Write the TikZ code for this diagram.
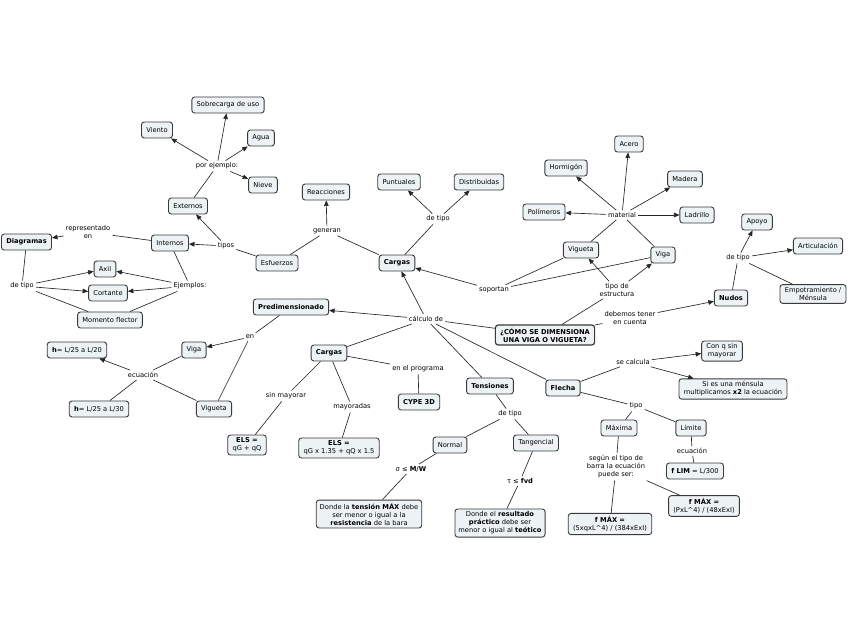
\documentclass[tikz,border=0pt]{standalone}
\usepackage{fontspec}
\setmainfont{DejaVu Sans}
\usetikzlibrary{arrows.meta}
\definecolor{boxfill}{HTML}{EDF2F5}
\definecolor{boxline}{HTML}{3A3A3A}
\tikzset{
  concept/.style={draw=boxline, fill=boxfill, rounded corners=2.8pt, line width=0.9pt,
    inner xsep=4.8pt, inner ysep=2.8pt, minimum height=16pt,
    font=\fontsize{6.7}{8}\selectfont, align=center},
  mainc/.style={concept, font=\fontsize{6.7}{8}\selectfont\bfseries},
  link/.style={inner sep=2pt, font=\fontsize{6.7}{8}\selectfont, align=center},
  con/.style={draw=black!85, line width=0.65pt},
  arr/.style={con, -{Triangle[length=5.5pt,width=4.6pt]}},
}
\begin{document}
\begin{tikzpicture}[x=1pt,y=-1pt]
\fill[white] (0,0) rectangle (848,638);
\useasboundingbox (0,0) rectangle (848,638);
% concepts and links
\node[concept] (sobre) at (228,105) {Sobrecarga de uso};
\node[concept] (viento) at (157,130) {Viento};
\node[concept] (agua) at (261,138) {Agua};
\node[link] (porej) at (217,166) {por ejemplo:};
\node[concept] (nieve) at (263,185) {Nieve};
\node[concept] (externos) at (188,206) {Externos};
\node[concept] (reacc) at (326,192) {Reacciones};
\node[concept] (puntuales) at (399,182) {Puntuales};
\node[concept] (distrib) at (479,182) {Distribuidas};
\node[link] (detipoC) at (438,219) {de tipo};
\node[link] (generan) at (327,231) {generan};
\node[concept] (esfuerzos) at (277,263) {Esfuerzos};
\node[link] (tipos) at (226,246) {tipos};
\node[concept] (internos) at (170,243) {Internos};
\node[link] (repr) at (88,232) {representado\\en};
\node[mainc] (diagramas) at (26.5,242) {Diagramas};
\node[concept] (axil) at (105,269) {Axil};
\node[link] (detipoD) at (22,286) {de tipo};
\node[concept] (cortante) at (108,293) {Cortante};
\node[link] (ejemplos) at (190,286) {Ejemplos:};
\node[concept] (momento) at (110,320) {Momento flector};
\node[mainc] (cargas) at (397,263) {Cargas};
\node[concept] (hormigon) at (566,168) {Hormigón};
\node[concept] (acero) at (629,144) {Acero};
\node[concept] (madera) at (685,179) {Madera};
\node[concept] (polimeros) at (544,212) {Polímeros};
\node[link] (material) at (622,215) {material};
\node[concept] (ladrillo) at (697,215) {Ladrillo};
\node[concept] (viguetaR) at (581,250) {Vigueta};
\node[concept] (vigaR) at (663,255) {Viga};
\node[link] (soportan) at (494,290) {soportan};
\node[link] (tipoest) at (617,290) {tipo de\\estructura};
\node[concept] (apoyo) at (757,222) {Apoyo};
\node[link] (detipoN) at (738,258) {de tipo};
\node[concept] (artic) at (818,246) {Articulación};
\node[concept] (empotr) at (813,294) {Empotramiento /\\Ménsula};
\node[mainc] (nudos) at (731,298) {Nudos};
\node[link] (debemos) at (630,318) {debemos tener\\en cuenta};
\node[mainc, line width=1.2pt] (como) at (545,335) {¿CÓMO SE DIMENSIONA\\UNA VIGA O VIGUETA?};
\node[link] (calculo) at (426,319) {cálculo de};
\node[mainc] (predim) at (291,307) {Predimensionado};
\node[link] (enP) at (250,337) {en};
\node[concept] (vigaL) at (194,350) {Viga};
\node[concept] (h1) at (77,350) {\textbf{h}= L/25 a L/20};
\node[link] (ecuL) at (143,375) {ecuación};
\node[concept] (h2) at (99,409) {\textbf{h}= L/25 a L/30};
\node[concept] (viguetaL) at (214,409) {Vigueta};
\node[mainc] (cargasM) at (329,353) {Cargas};
\node[link] (enprog) at (418,369) {en el programa};
\node[mainc] (cype) at (419,402) {CYPE 3D};
\node[link] (sinmay) at (286,396) {sin mayorar};
\node[link] (mayoradas) at (352,407) {mayoradas};
\node[concept] (els1) at (247,445) {\textbf{ELS =}\\qG + qQ};
\node[concept] (els2) at (339,448) {\textbf{ELS =}\\qG x 1.35 + qQ x 1.5};
\node[mainc] (tensiones) at (490,386) {Tensiones};
\node[link] (detipoT) at (510,414) {de tipo};
\node[concept] (normal) at (450,445) {Normal};
\node[concept] (tang) at (536,443) {Tangencial};
\node[link] (sigma) at (411,469) {σ ≤ \textbf{M/W}};
\node[link] (tau) at (520,481) {τ ≤ \textbf{fvd}};
\node[concept, inner xsep=3.5pt] (dondeT) at (369,514) {Donde la \textbf{tensión MÁX} debe\\ser menor o igual a la\\\textbf{resistencia} de la bara};
\node[concept, inner xsep=3.5pt] (dondeR) at (500,523) {Donde el \textbf{resultado}\\\textbf{práctico} debe ser\\menor o igual al \textbf{teótico}};
\node[mainc] (flecha) at (563,388) {Flecha};
\node[link] (secalc) at (633,362) {se calcula};
\node[concept] (conq) at (722,351) {Con q sin\\mayorar};
\node[concept] (sies) at (733,389) {Si es una ménsula\\multiplicamos \textbf{x2} la ecuación};
\node[link] (tipoF) at (636,406) {tipo};
\node[concept] (maxima) at (619,428) {Máxima};
\node[concept] (limite) at (691,428) {Límite};
\node[link] (ecuF) at (692,451) {ecuación};
\node[concept] (flim) at (695,471) {\textbf{f LIM} = L/300};
\node[link] (segun) at (616,467) {según el tipo de\\barra la ecuación\\puede ser:};
\node[concept] (fmax2) at (704,506) {\textbf{f MÁX =}\\(PxL\textasciicircum 4) / (48xExI)};
\node[concept] (fmax1) at (610,524) {\textbf{f MÁX =}\\(5xqxL\textasciicircum 4) / (384xExI)};
% connectors
\draw[con] (como) -- (calculo);
\draw[arr] (calculo) -- (predim);
\draw[arr] (calculo) -- (cargas);
\draw[con] (calculo) -- (cargasM);
\draw[con] (calculo) -- (tensiones);
\draw[con] (calculo) -- (flecha);
\draw[con] (cargas) -- (detipoC);
\draw[arr] (detipoC) -- (puntuales);
\draw[arr] (detipoC) -- (distrib);
\draw[con] (esfuerzos) -- (generan);
\draw[con] (generan) -- (cargas);
\draw[arr] (generan) -- (reacc);
\draw[con] (esfuerzos) -- (tipos);
\draw[arr] (tipos) -- (internos);
\draw[arr] (tipos) -- (externos);
\draw[con] (externos) -- (porej);
\draw[arr] (porej) -- (viento);
\draw[arr] (porej) -- (sobre);
\draw[arr] (porej) -- (agua);
\draw[arr] (porej) -- (nieve);
\draw[con] (internos) -- (repr);
\draw[arr] (repr) -- (diagramas);
\draw[con] (internos) -- (ejemplos);
\draw[arr] (ejemplos) -- (axil);
\draw[arr] (ejemplos) -- (cortante);
\draw[con] (ejemplos) -- (momento);
\draw[con] (diagramas) -- (detipoD);
\draw[arr] (detipoD) -- (axil);
\draw[arr] (detipoD) -- (cortante);
\draw[con] (detipoD) -- (momento);
\draw[con] (viguetaR) -- (soportan);
\draw[con] (vigaR) -- (soportan);
\draw[arr] (soportan) -- (cargas);
\draw[con] (viguetaR) -- (material);
\draw[con] (vigaR) -- (material);
\draw[arr] (material) -- (hormigon);
\draw[arr] (material) -- (acero);
\draw[arr] (material) -- (madera);
\draw[arr] (material) -- (polimeros);
\draw[arr] (material) -- (ladrillo);
\draw[con] (como) -- (tipoest);
\draw[arr] (tipoest) -- (viguetaR);
\draw[arr] (tipoest) -- (vigaR);
\draw[con] (como) -- (debemos);
\draw[arr] (debemos) -- (nudos);
\draw[con] (nudos) -- (detipoN);
\draw[arr] (detipoN) -- (apoyo);
\draw[arr] (detipoN) -- (artic);
\draw[con] (detipoN) -- (empotr);
\draw[con] (predim) -- (enP);
\draw[arr] (enP) -- (vigaL);
\draw[con] (enP) -- (viguetaL);
\draw[con] (vigaL) -- (ecuL);
\draw[arr] (ecuL) -- (h1);
\draw[con] (viguetaL) -- (ecuL);
\draw[con] (ecuL) -- (h2);
\draw[con] (cargasM) -- (sinmay);
\draw[con] (sinmay) -- (els1);
\draw[con] (cargasM) -- (mayoradas);
\draw[con] (mayoradas) -- (els2);
\draw[con] (cargasM) -- (enprog);
\draw[con] (enprog) -- (cype);
\draw[con] (tensiones) -- (detipoT);
\draw[con] (detipoT) -- (normal);
\draw[con] (detipoT) -- (tang);
\draw[con] (normal) -- (sigma);
\draw[con] (sigma) -- (dondeT);
\draw[con] (tang) -- (tau);
\draw[con] (tau) -- (dondeR);
\draw[con] (flecha) -- (secalc);
\draw[arr] (secalc) -- (conq);
\draw[arr] (secalc) -- (sies);
\draw[con] (flecha) -- (tipoF);
\draw[con] (tipoF) -- (maxima);
\draw[con] (tipoF) -- (limite);
\draw[con] (limite) -- (ecuF);
\draw[con] (ecuF) -- (flim);
\draw[con] (maxima) -- (segun);
\draw[con] (segun) -- (fmax1);
\draw[con] (segun) -- (fmax2);
\end{tikzpicture}
\end{document}
